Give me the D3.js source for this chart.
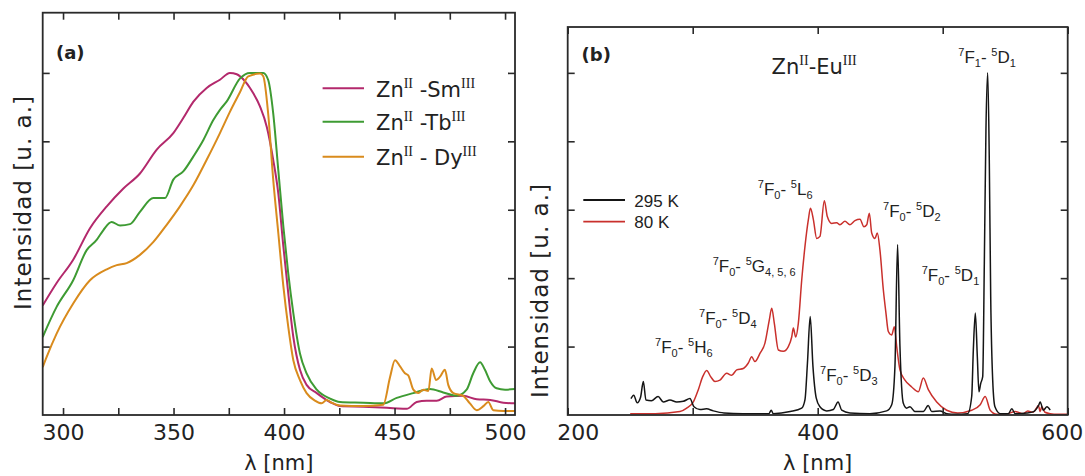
<!DOCTYPE html>
<html><head><meta charset="utf-8">
<script src="https://cdn.jsdelivr.net/npm/d3@7"></script>
<style>
html,body{margin:0;padding:0;background:#fff;}
svg{display:block;}
</style></head>
<body>
<svg id="chart" width="1085" height="476"></svg>
<script>
// ---------------- DATA ----------------
// Panel (a): excitation spectra, wavelength (nm) and intensity (a.u.)
const smWave = [290.8,297.1,304.6,312.2,319.8,327.3,334.8,342.4,349.9,354.4,359,365,371,375.5,378.6,380.1,384.6,389.1,392.2,395.1,397.4,399.7,401.9,404.2,407.2,410.2,414.8,420.8,425.3,435.9,449.4,455.5,460,464.5,469.1,473.6,481.1,487.2,493.3,499.2,504.5];
const smInt  = [1.60,1.93,2.27,2.73,3.05,3.31,3.53,3.88,4.12,4.34,4.58,4.78,4.90,5.0,4.98,4.95,4.78,4.51,4.21,3.73,3.24,2.46,1.78,1.14,0.66,0.44,0.32,0.19,0.13,0.12,0.10,0.09,0.19,0.21,0.21,0.27,0.28,0.23,0.22,0.18,0.17];
const tbWave = [290.8,297.1,304.6,310.7,315.2,318.2,322,325.8,330.3,334.8,340.9,346.1,349.9,354.4,359,363.5,368,371,374,380.1,384.6,390.6,392.8,395.1,397.4,399.7,401.9,404.2,407.2,410.2,414.8,420.8,425.3,435.9,444.9,451,458.5,466,472,478.1,482.6,485.6,488.7,490.9,493.3,496.2,500,504.5];
const tbInt  = [1.14,1.58,1.97,2.41,2.56,2.70,2.82,2.77,2.79,2.97,3.17,3.17,3.44,3.56,3.78,4.02,4.31,4.46,4.58,4.92,5.0,5.0,4.90,4.41,3.58,2.75,2.07,1.49,0.90,0.61,0.37,0.24,0.19,0.18,0.17,0.25,0.32,0.38,0.33,0.28,0.37,0.61,0.77,0.66,0.49,0.39,0.37,0.38];
const dyWave = [290.8,292.6,297.1,304.6,312.2,319.8,324.3,328.8,334.8,340.9,346.9,352.9,359,365,371,375.5,380.1,383.8,389.1,390.6,392.8,395.1,397.4,399.7,401.9,404.2,407.2,410.2,414,417,419.3,421.5,425.3,435.9,444.9,448,450.2,452.5,454.7,456.2,458.5,460.8,463,465.3,466.8,468.8,470.6,472.8,474.3,476.6,481.1,484.1,487.2,490.2,492.4,494.7,499.2,504.5];
const dyInt  = [0.70,0.85,1.19,1.63,1.97,2.13,2.19,2.22,2.34,2.53,2.78,3.05,3.36,3.73,4.12,4.43,4.72,4.95,4.99,4.95,4.41,3.44,2.66,1.88,1.29,0.80,0.51,0.32,0.21,0.17,0.22,0.18,0.14,0.13,0.15,0.56,0.80,0.71,0.61,0.58,0.37,0.32,0.37,0.35,0.68,0.51,0.56,0.66,0.44,0.32,0.28,0.17,0.07,0.13,0.19,0.07,0.06,0.06];

// Panel (b): Zn-Eu spectra at 295 K and 80 K
const k295Wave = [250.6,252.8,255.6,258.3,260.5,262.6,267,272.3,276.5,281.8,287.2,292.5,297.8,301,305.8,311,316.5,325,340,361,362.8,364.5,378,387.2,389.8,391.8,394,396.2,398.8,401.8,407.2,412.5,416.3,419.2,425.8,441.7,455.2,459.2,461.8,463.9,465.8,468.5,471.2,473.8,477.8,484.5,488.4,491.2,497.8,503.2,510,520,523.2,524.5,526.1,527.7,529,530.4,532,533.3,534.6,536,537.3,538.4,540,541.8,546,552.5,555.3,558,567.4,572.7,576.7,578,580.5,583.4,586];
const k295Int  = [0.24,0.29,0.18,0.26,0.49,0.22,0.21,0.27,0.19,0.22,0.19,0.20,0.24,0.12,0.08,0.09,0.06,0.03,0.02,0.02,0.07,0.02,0.05,0.10,0.22,0.76,1.44,0.71,0.25,0.12,0.06,0.08,0.19,0.07,0.03,0.02,0.06,0.15,0.71,2.49,1.0,0.17,0.10,0.12,0.05,0.05,0.14,0.05,0.06,0.02,0.01,0.02,0.27,0.95,1.49,0.85,0.34,0.46,0.56,2.22,4.17,5.0,3.68,1.73,0.51,0.12,0.02,0.02,0.09,0.02,0.03,0.05,0.14,0.19,0.07,0.12,0.07];
const k80Wave = [250,270,289.8,295.2,300.5,304.5,308,311.2,314.4,317.8,321.8,327.2,331.2,335.2,340.5,344.5,347.2,349.8,353.8,357.8,361.3,363.2,365.3,368.5,372.5,376.5,379.2,380.5,382.4,384.5,387.2,389.8,392.5,394.2,396.5,399.2,401.8,405.3,407.7,411.2,415.2,417.8,421.8,425.8,429.8,433.8,437,439.2,441.3,443.2,445.8,447.7,449.8,452.5,454.6,456.5,459.2,461.3,463.2,465.8,469.8,475.2,480.5,484.5,488.5,495.2,503.2,512,523.2,530,534,538,543.2,552,558,564.5,568,572.3,575,576.5,578,579.2,581.8,586,592,600];
const k80Int  = [0.02,0.02,0.05,0.10,0.19,0.37,0.56,0.65,0.56,0.49,0.51,0.61,0.58,0.66,0.68,0.76,0.85,0.78,0.90,1.05,1.39,1.56,1.34,0.95,0.93,1.0,1.14,1.27,1.14,1.34,1.97,2.46,2.85,3.02,2.86,2.58,2.61,3.13,2.90,2.80,2.81,2.78,2.83,2.78,2.84,2.86,2.75,2.78,2.95,2.66,2.58,2.66,2.41,1.83,1.49,1.22,1.17,1.29,1.0,0.66,0.51,0.41,0.34,0.54,0.37,0.19,0.07,0.03,0.07,0.15,0.27,0.07,0.01,0.02,0.05,0.02,0.06,0.04,0.10,0.14,0.05,0.12,0.04,0.02,0.01,0.01];

// Tick values / labels
const aTicks = [300,325,350,375,400,425,450,475,500];
const aTickLabels = [300,350,400,450,500];
const bTicks = [200,300,400,500,600];
const bTickLabels = [200,400,600];
const yTicks = [1,2,3,4,5];

// Legends / annotations text
const aSeriesNames = [["Zn","II"," -Sm","III"],["Zn","II"," -Tb","III"],["Zn","II"," - Dy","III"]];
const bSeriesNames = ["295 K","80 K"];
const bAnnotations = [
  {x:655,   y:353, lower:"0", upper:"5", state:"H", sub:"6"},
  {x:699,   y:324, lower:"0", upper:"5", state:"D", sub:"4"},
  {x:712.7, y:272, lower:"0", upper:"5", state:"G", sub:"4, 5, 6"},
  {x:757.8, y:195, lower:"0", upper:"5", state:"L", sub:"6"},
  {x:820,   y:381, lower:"0", upper:"5", state:"D", sub:"3"},
  {x:883,   y:217, lower:"0", upper:"5", state:"D", sub:"2"},
  {x:921.7, y:281, lower:"0", upper:"5", state:"D", sub:"1"},
  {x:958.3, y:63,  lower:"1", upper:"5", state:"D", sub:"1"}
];

// ---------------- DRAWING ----------------
const svg = d3.select("#chart");
const FONT = "'DejaVu Sans', Verdana, sans-serif";
const AFONT = "'Liberation Sans', Arial, sans-serif";
const SERIF = "'Liberation Serif', 'Times New Roman', serif";
const frameColor = "#2a2a2a";

const A = {l:42.7, r:515, t:12.7, b:415};
const B = {l:567.7, r:1067.7, t:27, b:415};

const xA = d3.scaleLinear().domain([290.8, 504.5]).range([A.l, A.r]);
const yA = d3.scaleLinear().domain([0, 5.88]).range([A.b, A.t]);
const xB = d3.scaleLinear().domain([200, 600]).range([B.l, B.r]);
const yB = d3.scaleLinear().domain([0, 5.67]).range([B.b, B.t]);

const defs = svg.append("defs");
[["clipA",A],["clipB",B]].forEach(([id,P])=>{
  defs.append("clipPath").attr("id",id).append("rect")
    .attr("x",P.l).attr("y",P.t).attr("width",P.r-P.l).attr("height",P.b-P.t);
});

function drawAxes(P, x, y, ticks, labels, labelShift){
  const g = svg.append("g");
  const fmt = d => labels.includes(d) ? String(d) : "";
  const bottom = g.append("g").attr("transform",`translate(0,${P.b})`)
    .call(d3.axisBottom(x).tickValues(ticks).tickFormat(fmt).tickSizeInner(-7).tickSizeOuter(0).tickPadding(9));
  g.append("g").attr("transform",`translate(0,${P.t})`)
    .call(d3.axisTop(x).tickValues(ticks).tickFormat("").tickSizeInner(-7).tickSizeOuter(0));
  g.append("g").attr("transform",`translate(${P.l},0)`)
    .call(d3.axisLeft(y).tickValues(yTicks).tickFormat("").tickSizeInner(-7).tickSizeOuter(0));
  g.append("g").attr("transform",`translate(${P.r},0)`)
    .call(d3.axisRight(y).tickValues(yTicks).tickFormat("").tickSizeInner(-7).tickSizeOuter(0));
  g.selectAll(".domain").remove();
  g.selectAll(".tick line").attr("stroke",frameColor).attr("stroke-width",1.6);
  bottom.selectAll(".tick text").attr("font-family",FONT).attr("font-size",22).attr("fill","#222")
    .attr("dx", d => (labelShift && labelShift[d]) ? labelShift[d] : 0);
  g.append("rect").attr("x",P.l).attr("y",P.t).attr("width",P.r-P.l).attr("height",P.b-P.t)
    .attr("fill","none").attr("stroke",frameColor).attr("stroke-width",1.8);
}

function drawSeries(wave, vals, x, y, clip, color, width){
  const pts = d3.zip(wave, vals);
  const line = d3.line().x(d=>x(d[0])).y(d=>y(d[1])).curve(d3.curveMonotoneX);
  svg.append("path").datum(pts).attr("d",line).attr("fill","none")
    .attr("stroke",color).attr("stroke-width",width).attr("stroke-linejoin","round")
    .attr("clip-path",`url(#${clip})`);
}

// rich text helper: parts = [[text, 'n'|'sup'|'sub']]
function richText(x, y, parts, opt){
  const t = svg.append("text").attr("x",x).attr("y",y)
    .attr("font-family",opt.family).attr("font-size",opt.size).attr("fill",opt.fill||"#222");
  let cur = 0;
  parts.forEach(([s,type])=>{
    const target = type==="sup" ? -opt.supShift : (type==="sub" ? opt.subShift : 0);
    const ts = t.append("tspan").attr("dy", target-cur).text(s);
    if (type!=="n"){
      ts.attr("font-size",opt.smallSize);
      if (opt.smallFamily) ts.attr("font-family",opt.smallFamily);
    }
    cur = target;
  });
  return t;
}

// ---- Panel (a)
const aColors = ["#b3296c","#3e9b33","#d98b1d"];
drawSeries(smWave, smInt, xA, yA, "clipA", aColors[0], 2);
drawSeries(tbWave, tbInt, xA, yA, "clipA", aColors[1], 2);
drawSeries(dyWave, dyInt, xA, yA, "clipA", aColors[2], 2);
drawAxes(A, xA, yA, aTicks, aTickLabels, null);

svg.append("text").attr("x",56).attr("y",59).attr("font-family",FONT).attr("font-weight","bold")
  .attr("font-size",18).attr("fill","#222").text("(a)");

const legYA = [88.3,121.7,156.7];
aSeriesNames.forEach((nm,i)=>{
  svg.append("line").attr("x1",322.6).attr("x2",364).attr("y1",legYA[i]).attr("y2",legYA[i])
    .attr("stroke",aColors[i]).attr("stroke-width",2);
  richText(376, legYA[i]+8.5, [[nm[0],"n"],[nm[1],"sup"],[nm[2],"n"],[nm[3],"sup"]],
    {family:FONT,size:21,smallSize:14,smallFamily:SERIF,supShift:9,subShift:0});
});

svg.append("text").attr("transform","translate(31,203) rotate(-90)").attr("text-anchor","middle")
  .attr("font-family",FONT).attr("font-size",23).attr("fill","#222")
  .attr("textLength",214).attr("lengthAdjust","spacing").text("Intensidad [u. a.]");
svg.append("text").attr("x",(A.l+A.r)/2).attr("y",470).attr("text-anchor","middle")
  .attr("font-family",FONT).attr("font-size",21).attr("fill","#222").text("λ [nm]");

// ---- Panel (b)
const bColors = ["#151515","#c9302c"];
drawSeries(k80Wave, k80Int, xB, yB, "clipB", bColors[1], 1.5);
drawSeries(k295Wave, k295Int, xB, yB, "clipB", bColors[0], 1.5);
drawAxes(B, xB, yB, bTicks, bTickLabels, {200:10, 600:-6});

svg.append("text").attr("x",581.6).attr("y",61).attr("font-family",FONT).attr("font-weight","bold")
  .attr("font-size",18).attr("fill","#222").text("(b)");

richText(771.6, 74, [["Zn","n"],["II","sup"],["-Eu","n"],["III","sup"]],
  {family:FONT,size:21,smallSize:14,smallFamily:SERIF,supShift:9,subShift:0});

const legYB = [200,221.7];
bSeriesNames.forEach((nm,i)=>{
  svg.append("line").attr("x1",583.3).attr("x2",625).attr("y1",legYB[i]).attr("y2",legYB[i])
    .attr("stroke",bColors[i]).attr("stroke-width",1.8);
  svg.append("text").attr("x",634.3).attr("y",legYB[i]+6.5).attr("font-family",AFONT)
    .attr("font-size",17).attr("fill","#222").text(nm);
});

bAnnotations.forEach(a=>{
  richText(a.x, a.y, [["7","sup"],["F","n"],[a.lower,"sub"],["- ","n"],[a.upper,"sup"],[a.state,"n"],[a.sub,"sub"]],
    {family:AFONT,size:17,smallSize:11,supShift:7,subShift:4});
});

svg.append("text").attr("transform","translate(548,291) rotate(-90)").attr("text-anchor","middle")
  .attr("font-family",FONT).attr("font-size",23).attr("fill","#222")
  .attr("textLength",214).attr("lengthAdjust","spacing").text("Intensidad [u. a.]");
svg.append("text").attr("x",(B.l+B.r)/2).attr("y",470).attr("text-anchor","middle")
  .attr("font-family",FONT).attr("font-size",21).attr("fill","#222").text("λ [nm]");
</script></body></html>
